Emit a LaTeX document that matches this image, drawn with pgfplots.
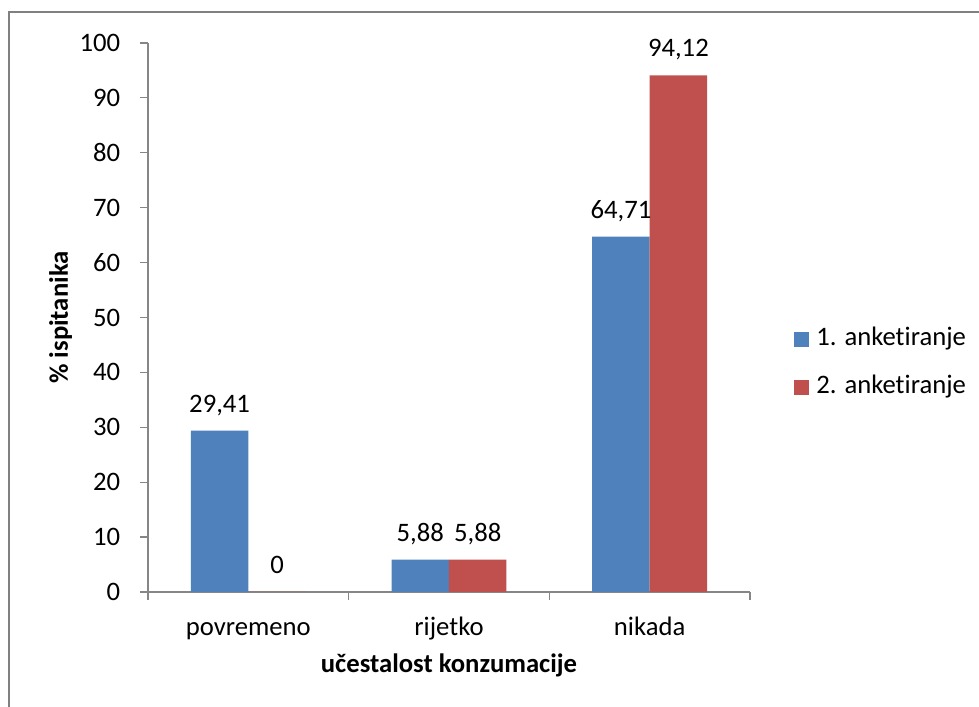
\documentclass[border=0pt]{standalone}
\usepackage{pgfplots}
\pgfplotsset{compat=1.18}
\usepackage{fontspec}
\setmainfont{Carlito}[Ligatures={NoCommon}]
\definecolor{serA}{HTML}{4F81BD}
\definecolor{serB}{HTML}{C0504D}
\definecolor{axgray}{HTML}{868686}
\definecolor{framegray}{HTML}{808080}
\begin{document}
\fontsize{20}{24}\selectfont
\begin{tikzpicture}
% picture area = 979 x 707 px at 0.75pt per px
\useasboundingbox (0,0) rectangle (734.25pt,530.25pt);
\draw[framegray, line width=0.9pt] (6.75pt,0pt) -- (6.75pt,521.25pt) -- (734.25pt,521.25pt);
\begin{axis}[
  at={(111pt,86.25pt)}, anchor=south west,
  scale only axis, width=451.5pt, height=411.75pt,
  xmin=-0.5, xmax=2.5, ymin=0, ymax=100,
  axis x line*=bottom, axis y line*=left,
  axis line style={axgray, line width=0.9pt},
  ytick={0,10,...,100},
  xtick={0,1,2},
  xticklabels={povremeno,rijetko,nikada},
  minor xtick={-0.5,0.5,1.5,2.5},
  major x tick style={draw=none},
  tick align=outside,
  major tick length=6pt, minor tick length=6pt,
  tick style={axgray, line width=0.9pt},
  every tick label/.append style={font=\fontsize{20}{24}\selectfont, text=black},
  xticklabel style={anchor=base, yshift=-26.5pt},
  yticklabel style={anchor=east, xshift=-8pt},
  /pgf/number format/assume math mode=true,
  /pgf/number format/use comma,
  /pgf/number format/fixed,
  /pgf/number format/precision=2,
  xlabel={\textbf{učestalost konzumacije}},
  ylabel={\textbf{\% ispitanika}},
  label style={font=\fontsize{20}{24}\selectfont},
  xlabel style={at={(axis description cs:0.5,-0.1475)}, anchor=base},
  ylabel style={at={(axis description cs:-0.1329,0.5)}, anchor=base, rotate=0},
  ybar, bar width=43.1pt,
  nodes near coords,
  every node near coord/.append style={font=\fontsize{20}{24}\selectfont, text=black, anchor=base, yshift=13.9pt, inner sep=0pt},
  legend style={at={(1.0731,0.4814)}, anchor=north west, draw=none, fill=none, inner sep=0pt,
    row sep=18pt, font=\fontsize{20}{24}\selectfont,
    nodes={inner sep=0pt, text height=13pt, text depth=5pt, anchor=base west}},
  /tikz/every odd column/.append style={column sep=5.25pt},
  legend cell align=left,
  legend image code/.code={\fill[#1] (0pt,-1.5pt) rectangle (11.25pt,9.75pt);},
]
\addplot[fill=serA, draw=none, bar shift=-21.55pt] coordinates {(0,29.41) (1,5.88) (2,64.71)};
\addplot[fill=serB, draw=none, bar shift=21.55pt] coordinates {(0,0) (1,5.88) (2,94.12)};
\legend{1. anketiranje, 2. anketiranje}
\end{axis}
\end{tikzpicture}
\end{document}
